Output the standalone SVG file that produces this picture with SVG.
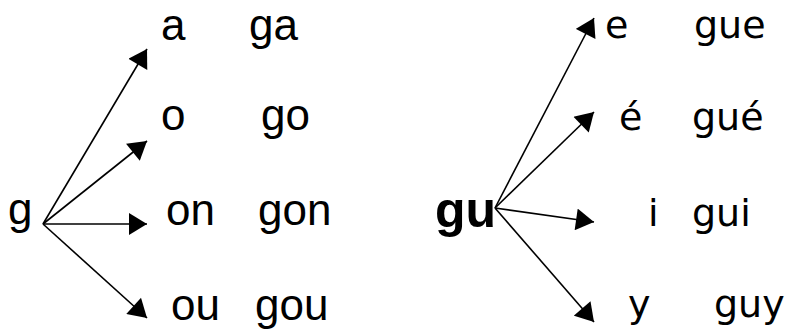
<svg xmlns="http://www.w3.org/2000/svg" width="786" height="330" viewBox="0 0 786 330">
<defs>
<style>
.l{font-family:"Liberation Sans",Arial,sans-serif;font-size:44px;fill:#000}
.r{font-family:"DejaVu Sans","Noto Sans",sans-serif;font-size:38px;fill:#000}
.b{font-family:"Liberation Sans",Arial,sans-serif;font-size:50px;font-weight:bold;fill:#000}
.c{stroke:#000;stroke-width:1.6;fill:none;marker-end:url(#ah)}
</style>
<marker id="ah" markerUnits="userSpaceOnUse" markerWidth="20" markerHeight="22" viewBox="0 0 18 22" refX="18" refY="11" orient="auto">
<path d="M0,0 L18,11 L0,22 Z" fill="#000"/>
</marker>
</defs>
<g id="connectors">
<line class="c" x1="43" y1="224" x2="147" y2="49"/>
<line class="c" x1="43" y1="224" x2="147" y2="141"/>
<line class="c" x1="43" y1="224" x2="147" y2="224"/>
<line class="c" x1="43" y1="224" x2="147" y2="318"/>
<line class="c" x1="495" y1="208" x2="594" y2="18"/>
<line class="c" x1="495" y1="208" x2="594" y2="112"/>
<line class="c" x1="495" y1="208" x2="594" y2="222"/>
<line class="c" x1="495" y1="208" x2="594" y2="322"/>
</g>
<g id="g"><text class="l" x="8" y="224">g</text></g>
<g id="a"><text class="l" x="161" y="40">a</text></g>
<g id="ga"><text class="l" x="249" y="40">ga</text></g>
<g id="o"><text class="l" x="161" y="130">o</text></g>
<g id="go"><text class="l" x="261" y="130">go</text></g>
<g id="on"><text class="l" x="166" y="225">on</text></g>
<g id="gon"><text class="l" x="258" y="225">gon</text></g>
<g id="ou"><text class="l" x="171" y="320">ou</text></g>
<g id="gou"><text class="l" x="255" y="320">gou</text></g>
<g id="gu"><text class="b" x="435" y="227">gu</text></g>
<g id="e"><text class="r" x="605" y="38">e</text></g>
<g id="gue"><text class="r" x="694" y="38">gue</text></g>
<g id="e-acute"><text class="r" x="619" y="130">é</text></g>
<g id="gue-acute"><text class="r" x="692" y="130">gué</text></g>
<g id="i"><text class="r" x="648" y="226">i</text></g>
<g id="gui"><text class="r" x="692" y="226">gui</text></g>
<g id="y"><text class="r" x="628" y="317">y</text></g>
<g id="guy"><text class="r" x="714" y="317">guy</text></g>
</svg>
